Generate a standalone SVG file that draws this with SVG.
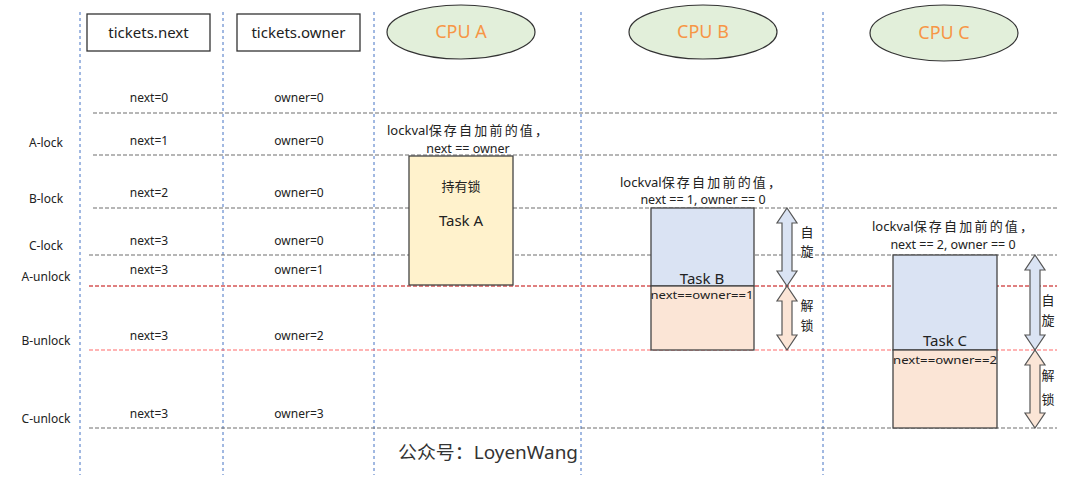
<svg xmlns="http://www.w3.org/2000/svg" width="1085" height="488" viewBox="0 0 1085 488">
<style>
text{font-family:"Noto Sans","Noto Sans CJK SC",sans-serif;fill:#222;}
.v{stroke:#4472C4;stroke-width:1;stroke-dasharray:3 3;fill:none}
.g{stroke:#6f6f6f;stroke-width:1.2;stroke-dasharray:4 2;fill:none}
.r1{stroke:#C00000;stroke-width:1;stroke-dasharray:4 2;fill:none}
.r2{stroke:#FF6B6B;stroke-width:1.2;stroke-dasharray:4 2;fill:none}
.hdr{fill:#fff;stroke:#333;stroke-width:1.3}
.cpu{fill:#E2EFDA;stroke:#333;stroke-width:1.2}
.cput{fill:#F79646;font-size:18px}
.lbl{font-size:12px;text-anchor:middle}
.val{font-size:12px;text-anchor:middle}
.note{font-size:12.5px;text-anchor:middle}
.sp{letter-spacing:2.2px}
.task{stroke:#444;stroke-width:1.3}
.tt{font-size:15px;text-anchor:middle}
.arr{stroke:#555;stroke-width:1.2}
.cj{font-size:13px;text-anchor:middle}
</style>
<g id="grid">
<line class="v" x1="80" y1="12" x2="80" y2="475"/>
<line class="v" x1="223" y1="12" x2="223" y2="475"/>
<line class="v" x1="374" y1="12" x2="374" y2="475"/>
<line class="v" x1="581" y1="12" x2="581" y2="475"/>
<line class="v" x1="823" y1="12" x2="823" y2="475"/>
<line class="g" x1="93" y1="113" x2="1057" y2="113"/>
<line class="g" x1="93" y1="155" x2="1057" y2="155"/>
<line class="g" x1="93" y1="208" x2="1057" y2="208"/>
<line class="g" x1="89" y1="255" x2="1057" y2="255"/>
<line class="r1" x1="89" y1="286" x2="1057" y2="286"/>
<line class="r2" x1="89" y1="350" x2="1057" y2="350"/>
<line class="g" x1="89" y1="428" x2="1057" y2="428"/>
</g>
<g id="hdr-next"><rect class="hdr" x="87" y="14" width="123" height="37"/><text x="148.5" y="38" style="font-size:15px" text-anchor="middle">tickets.next</text></g>
<g id="hdr-owner"><rect class="hdr" x="237" y="14" width="123" height="37"/><text x="298.5" y="38" style="font-size:15px" text-anchor="middle">tickets.owner</text></g>
<g id="cpuA"><ellipse class="cpu" cx="461" cy="32" rx="74" ry="27"/><text class="cput" x="461" y="38" text-anchor="middle">CPU A</text></g>
<g id="cpuB"><ellipse class="cpu" cx="703" cy="32" rx="74" ry="27"/><text class="cput" x="703" y="38" text-anchor="middle">CPU B</text></g>
<g id="cpuC"><ellipse class="cpu" cx="944" cy="33" rx="74" ry="28"/><text class="cput" x="944" y="39" text-anchor="middle">CPU C</text></g>
<g id="labels">
<text class="lbl" x="46" y="147">A-lock</text>
<text class="lbl" x="46" y="203">B-lock</text>
<text class="lbl" x="46" y="250">C-lock</text>
<text class="lbl" x="46" y="281">A-unlock</text>
<text class="lbl" x="46" y="345">B-unlock</text>
<text class="lbl" x="46" y="423">C-unlock</text>
</g>
<g id="values">
<text class="val" x="149" y="102">next=0</text><text class="val" x="299" y="102">owner=0</text>
<text class="val" x="149" y="145">next=1</text><text class="val" x="299" y="145">owner=0</text>
<text class="val" x="149" y="197">next=2</text><text class="val" x="299" y="197">owner=0</text>
<text class="val" x="149" y="245">next=3</text><text class="val" x="299" y="245">owner=0</text>
<text class="val" x="149" y="274">next=3</text><text class="val" x="299" y="274">owner=1</text>
<text class="val" x="149" y="340">next=3</text><text class="val" x="299" y="340">owner=2</text>
<text class="val" x="149" y="418">next=3</text><text class="val" x="299" y="418">owner=3</text>
</g>
<g id="taskA">
<text x="387" y="135" style="font-size:13px">lockval<tspan class="sp">保存自加前的值，</tspan></text>
<text class="note" x="468" y="153">next == owner</text>
<rect class="task" x="409" y="156" width="104" height="129" fill="#FFF2CC"/>
<text class="cj" x="461" y="191">持有锁</text>
<text class="tt" x="461" y="226">Task A</text>
</g>
<g id="taskB">
<text x="620" y="187" style="font-size:13px">lockval<tspan class="sp">保存自加前的值，</tspan></text>
<text class="note" x="703" y="204">next == 1, owner == 0</text>
<rect class="task" x="651" y="208" width="103" height="78" fill="#DAE3F3"/>
<rect class="task" x="651" y="286" width="103" height="64" fill="#FBE5D6"/>
<text class="tt" x="702" y="284">Task B</text>
<text x="702" y="299" style="font-size:11.5px" text-anchor="middle" textLength="103" lengthAdjust="spacingAndGlyphs">next==owner==1</text>
<path class="arr" fill="#DAE3F3" d="M787,208 L797,223 L792,223 L792,271 L797,271 L787,286 L777,271 L782,271 L782,223 L777,223 Z"/>
<path class="arr" fill="#FBE5D6" d="M787,286 L797,301 L792,301 L792,335 L797,335 L787,350 L777,335 L782,335 L782,301 L777,301 Z"/>
<text class="cj" x="807" y="237">自</text>
<text class="cj" x="807" y="256">旋</text>
<text class="cj" x="807" y="310">解</text>
<text class="cj" x="807" y="330">锁</text>
</g>
<g id="taskC">
<text x="872" y="231" style="font-size:13px">lockval<tspan class="sp">保存自加前的值，</tspan></text>
<text class="note" x="953" y="249">next == 2, owner == 0</text>
<rect class="task" x="893" y="255" width="104" height="95" fill="#DAE3F3"/>
<rect class="task" x="893" y="350" width="104" height="78" fill="#FBE5D6"/>
<text class="tt" x="945" y="346">Task C</text>
<text x="945" y="364" style="font-size:11.5px" text-anchor="middle" textLength="104" lengthAdjust="spacingAndGlyphs">next==owner==2</text>
<path class="arr" fill="#DAE3F3" d="M1035,255 L1045,270 L1040,270 L1040,335 L1045,335 L1035,350 L1025,335 L1030,335 L1030,270 L1025,270 Z"/>
<path class="arr" fill="#FBE5D6" d="M1035,350 L1045,365 L1040,365 L1040,413 L1045,413 L1035,428 L1025,413 L1030,413 L1030,365 L1025,365 Z"/>
<text class="cj" x="1048" y="305">自</text>
<text class="cj" x="1048" y="325">旋</text>
<text class="cj" x="1048" y="380">解</text>
<text class="cj" x="1048" y="404">锁</text>
</g>
<text x="398" y="459" style="font-size:18px;fill:#333" textLength="180" lengthAdjust="spacingAndGlyphs">公众号：LoyenWang</text>
</svg>
